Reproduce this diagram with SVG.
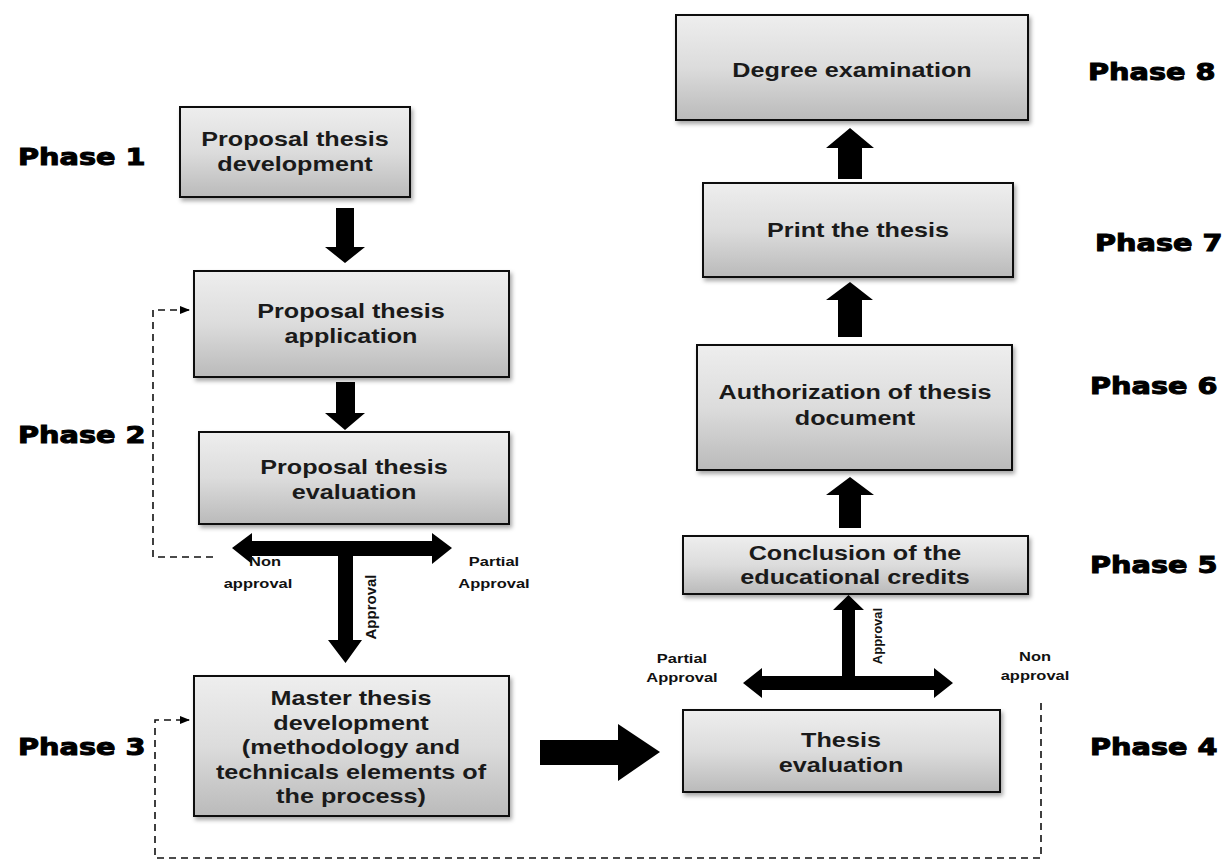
<svg xmlns="http://www.w3.org/2000/svg" width="1230" height="863" viewBox="0 0 1230 863">
<style>
.box{fill:url(#g);stroke:#111;stroke-width:2;filter:url(#sh)}
.bt{font-family:"Liberation Sans",Arial,sans-serif;font-weight:bold;font-size:20px;fill:#1a1a1a;text-anchor:middle}
.ph{font-family:"DejaVu Sans",sans-serif;font-weight:bold;font-size:23px;fill:#000;stroke:#000;stroke-width:1}
.lb{font-family:"Liberation Sans",Arial,sans-serif;font-weight:bold;font-size:13.5px;fill:#111;text-anchor:middle}
.ar{fill:#000}
.dash{fill:none;stroke:#111;stroke-width:1.6;stroke-dasharray:7 5}
</style>
<defs>
<linearGradient id="g" x1="0" y1="0" x2="0" y2="1">
<stop offset="0" stop-color="#eeeeee"/>
<stop offset="0.5" stop-color="#dcdcdc"/>
<stop offset="1" stop-color="#bababa"/>
</linearGradient>
<filter id="sh" x="-5%" y="-5%" width="115%" height="120%">
<feDropShadow dx="2" dy="3" stdDeviation="2" flood-color="#000" flood-opacity="0.35"/>
</filter>
<marker id="ah" markerWidth="10" markerHeight="8" refX="9" refY="4" orient="auto" markerUnits="userSpaceOnUse">
<path d="M0,0 L10,4 L0,8 Z" fill="#000"/>
</marker>
</defs>
<rect width="1230" height="863" fill="#fff"/>

<g id="phases">
<text class="ph" transform="translate(18,165) scale(1.25,1)">Phase 1</text>
<text class="ph" transform="translate(18,443) scale(1.25,1)">Phase 2</text>
<text class="ph" transform="translate(18,755) scale(1.25,1)">Phase 3</text>
<text class="ph" transform="translate(1090,755) scale(1.25,1)">Phase 4</text>
<text class="ph" transform="translate(1090,573) scale(1.25,1)">Phase 5</text>
<text class="ph" transform="translate(1090,394) scale(1.25,1)">Phase 6</text>
<text class="ph" transform="translate(1095,251) scale(1.25,1)">Phase 7</text>
<text class="ph" transform="translate(1088,80) scale(1.25,1)">Phase 8</text>
</g>

<g id="n1">
<rect class="box" x="180" y="107" width="230" height="90"/>
<text class="bt" transform="translate(295,146) scale(1.26,1)">Proposal thesis</text>
<text class="bt" transform="translate(295,171) scale(1.26,1)">development</text>
</g>
<g id="n2">
<rect class="box" x="194" y="271" width="315" height="106"/>
<text class="bt" transform="translate(351,318) scale(1.26,1)">Proposal thesis</text>
<text class="bt" transform="translate(351,343) scale(1.26,1)">application</text>
</g>
<g id="n3">
<rect class="box" x="199" y="432" width="310" height="92"/>
<text class="bt" transform="translate(354,474) scale(1.26,1)">Proposal thesis</text>
<text class="bt" transform="translate(354,499) scale(1.26,1)">evaluation</text>
</g>
<g id="n4">
<rect class="box" x="194" y="676" width="315" height="140"/>
<text class="bt" transform="translate(351,705) scale(1.26,1)">Master thesis</text>
<text class="bt" transform="translate(351,730) scale(1.26,1)">development</text>
<text class="bt" transform="translate(351,754) scale(1.26,1)">(methodology and</text>
<text class="bt" transform="translate(351,779) scale(1.26,1)">technicals elements of</text>
<text class="bt" transform="translate(351,803) scale(1.26,1)">the process)</text>
</g>
<g id="n5">
<rect class="box" x="683" y="710" width="317" height="82"/>
<text class="bt" transform="translate(841,747) scale(1.26,1)">Thesis</text>
<text class="bt" transform="translate(841,772) scale(1.26,1)">evaluation</text>
</g>
<g id="n6">
<rect class="box" x="683" y="536" width="345" height="58"/>
<text class="bt" transform="translate(855,560) scale(1.26,1)">Conclusion of the</text>
<text class="bt" transform="translate(855,584) scale(1.26,1)">educational credits</text>
</g>
<g id="n7">
<rect class="box" x="697" y="345" width="315" height="125"/>
<text class="bt" transform="translate(855,399) scale(1.26,1)">Authorization of thesis</text>
<text class="bt" transform="translate(855,425) scale(1.26,1)">document</text>
</g>
<g id="n8">
<rect class="box" x="703" y="183" width="310" height="94"/>
<text class="bt" transform="translate(858,237) scale(1.26,1)">Print the thesis</text>
</g>
<g id="n9">
<rect class="box" x="676" y="15" width="352" height="105"/>
<text class="bt" transform="translate(852,77) scale(1.26,1)">Degree examination</text>
</g>

<g id="connectors">
<polygon class="ar" points="336,208 354,208 354,247 365,247 345,263 325,247 336,247"/>
<polygon class="ar" points="336,382 355,382 355,413 365,413 345,430 325,413 336,413"/>
<polygon class="ar" points="232,548 252,533 252,541 432,541 432,533 452,548 432,564 432,556 252,556 252,564"/>
<polygon class="ar" points="338,556 353,556 353,640 362,640 345.5,663 328,640 338,640"/>
<polygon class="ar" points="540,740 618,740 618,724 660,752 618,781 618,765 540,765"/>
<polygon class="ar" points="743,683 762,668 762,676 934,676 934,668 953,683 934,698 934,690 762,690 762,698"/>
<polygon class="ar" points="842,676 855,676 855,610 864,610 848.5,595 833,610 842,610"/>
<polygon class="ar" points="839,528 861,528 861,495 874,495 850,477 826,495 839,495"/>
<polygon class="ar" points="838,337 862,337 862,300 873,300 850,282 826,300 838,300"/>
<polygon class="ar" points="838,179 862,179 862,148 874,148 850,128 826,148 838,148"/>
<path class="dash" d="M213,557 H153 V310 H189" marker-end="url(#ah)"/>
<path class="dash" d="M1041,703 V858 H155 V720 H189" marker-end="url(#ah)"/>
<text class="lb" transform="translate(265,566) scale(1.22,1)">Non</text>
<text class="lb" transform="translate(258,588) scale(1.22,1)">approval</text>
<text class="lb" transform="translate(494,566) scale(1.22,1)">Partial</text>
<text class="lb" transform="translate(494,588) scale(1.22,1)">Approval</text>
<text class="lb" transform="translate(376,607) rotate(-90)" style="font-size:15px">Approval</text>
<text class="lb" transform="translate(682,663) scale(1.22,1)">Partial</text>
<text class="lb" transform="translate(682,682) scale(1.22,1)">Approval</text>
<text class="lb" transform="translate(1035,661) scale(1.22,1)">Non</text>
<text class="lb" transform="translate(1035,680) scale(1.22,1)">approval</text>
<text class="lb" transform="translate(882,636) rotate(-90)" style="font-size:13px">Approval</text>
</g>
</svg>
